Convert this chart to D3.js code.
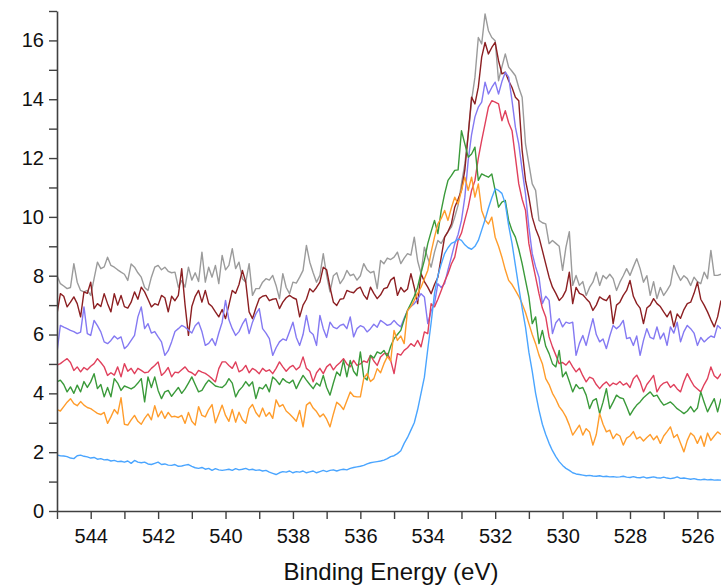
<!DOCTYPE html>
<html>
<head>
<meta charset="utf-8">
<script src="https://cdn.jsdelivr.net/npm/d3@7"></script>
<style>
  html, body { margin: 0; padding: 0; background: #ffffff; }
  svg { display: block; }
</style>
</head>
<body>
<svg id="chart" width="721" height="586"></svg>
<script>
// O 1s region, binding energy sampled every 0.1 eV starting at 545 eV
const energyStart = 545.0;
const energyStep = 0.1;
const energyDomain = [545, 525.3];
const intensityDomain = [0, 17];
const xTickValues = d3.range(526, 546, 1);
const yTickValues = d3.range(0, 18, 1);
const axisTitle = "Binding Energy (eV)";

const gray = [
  8.01, 7.73, 7.65, 7.56, 7.60, 8.41, 7.78, 7.50, 7.45, 7.50,
  7.33, 7.90, 8.46, 8.24, 8.30, 8.63, 8.35, 8.29, 8.20, 8.12,
  8.05, 7.84, 8.40, 8.29, 8.10, 7.95, 7.60, 7.50, 7.95, 8.29,
  8.35, 8.20, 8.29, 8.15, 8.10, 8.12, 7.61, 7.84, 7.61, 8.29,
  7.85, 8.10, 7.80, 8.80, 7.78, 8.29, 7.95, 8.35, 7.73, 8.69,
  8.20, 8.35, 8.92, 8.24, 8.46, 7.90, 7.78, 8.41, 7.33, 7.56,
  7.56, 7.78, 7.90, 7.85, 8.01, 7.67, 7.22, 8.07, 7.60, 7.39,
  7.78, 7.75, 7.95, 8.18, 9.03, 8.46, 8.10, 7.78, 8.01, 8.75,
  8.01, 7.45, 8.00, 8.10, 7.73, 7.90, 8.18, 8.00, 8.05, 7.85,
  8.00, 8.41, 8.20, 8.10, 8.15, 7.56, 8.52, 8.41, 8.60, 8.55,
  8.63, 8.80, 8.41, 8.60, 8.75, 8.70, 9.31, 8.50, 8.07, 8.97,
  8.60, 8.29, 8.80, 9.20, 9.10, 9.31, 9.50, 9.65, 9.99, 10.40,
  11.12, 11.80, 12.80, 13.95, 14.75, 16.10, 15.88, 16.90, 16.33, 16.10,
  15.99, 14.63, 15.10, 15.54, 15.09, 14.95, 14.80, 14.40, 14.07, 12.48,
  11.80, 11.12, 10.90, 9.88, 9.80, 9.76, 9.09, 9.20, 9.10, 9.00,
  8.18, 8.97, 9.50, 7.67, 8.01, 7.67, 7.80, 7.33, 7.60, 7.78,
  8.12, 7.67, 8.01, 7.90, 8.05, 7.90, 7.50, 7.78, 8.00, 8.24,
  8.01, 8.30, 8.58, 8.24, 7.78, 8.00, 7.33, 7.80, 7.22, 7.60,
  7.33, 7.50, 7.70, 8.35, 8.07, 7.84, 8.00, 7.90, 7.67, 7.95,
  7.80, 7.73, 8.12, 7.90, 8.86, 8.01, 8.01, 8.05
];

const darkRed = [
  6.70, 7.39, 7.30, 6.94, 7.10, 7.28, 7.05, 6.60, 7.45, 7.40,
  7.78, 6.88, 7.05, 6.95, 7.39, 7.05, 6.77, 7.39, 7.00, 7.33,
  6.95, 6.90, 7.10, 7.45, 7.20, 7.61, 7.45, 7.20, 6.94, 7.05,
  7.00, 7.33, 7.25, 6.77, 7.30, 7.15, 7.33, 8.24, 7.00, 5.97,
  6.95, 7.30, 7.50, 7.10, 7.50, 7.05, 6.95, 6.77, 6.60, 6.85,
  6.54, 7.00, 7.50, 7.40, 7.70, 8.18, 7.78, 6.77, 6.54, 6.90,
  7.22, 7.30, 7.33, 7.15, 7.20, 7.22, 6.88, 7.10, 7.25, 7.33,
  7.25, 7.20, 6.60, 7.00, 7.20, 7.56, 7.45, 7.60, 7.78, 8.29,
  8.20, 7.60, 7.10, 6.99, 7.20, 7.22, 7.50, 7.45, 7.42, 7.55,
  7.61, 7.35, 7.20, 7.61, 7.40, 7.22, 7.35, 7.56, 7.60, 7.85,
  7.95, 7.33, 7.60, 7.45, 7.55, 8.07, 7.60, 7.05, 8.07, 7.80,
  7.61, 7.39, 7.70, 7.95, 8.63, 9.31, 9.50, 9.76, 10.33, 10.60,
  10.90, 11.60, 12.80, 14.07, 13.84, 14.41, 15.43, 15.93, 15.54, 15.76,
  15.93, 15.31, 14.86, 14.92, 14.63, 14.40, 14.07, 13.95, 12.26, 11.24,
  10.67, 9.99, 9.60, 9.31, 8.86, 8.40, 7.95, 7.61, 7.40, 7.16,
  7.28, 7.50, 8.12, 7.05, 7.60, 7.40, 7.35, 7.22, 7.10, 6.82,
  7.00, 7.28, 7.20, 7.15, 7.33, 6.37, 7.00, 7.10, 7.33, 7.50,
  7.84, 7.30, 7.05, 6.90, 6.37, 6.90, 7.00, 7.22, 7.05, 6.95,
  6.77, 6.60, 6.80, 6.26, 6.70, 6.55, 6.85, 7.05, 7.10, 7.40,
  7.78, 7.20, 7.00, 6.77, 6.50, 6.26, 6.60, 7.16
];

const violet = [
  5.40, 6.31, 6.25, 6.20, 6.14, 6.10, 6.03, 6.08, 6.94, 6.03,
  5.97, 6.48, 6.30, 6.09, 5.75, 5.69, 5.80, 5.95, 5.85, 5.92,
  5.52, 5.63, 5.80, 5.97, 6.60, 6.94, 6.20, 6.37, 6.05, 6.10,
  5.92, 5.75, 5.29, 5.45, 5.75, 6.10, 6.20, 6.31, 6.25, 6.15,
  6.05, 6.30, 6.42, 6.10, 5.63, 5.70, 5.86, 5.63, 6.05, 6.42,
  7.16, 6.50, 6.20, 5.97, 6.10, 6.35, 6.54, 6.03, 6.42, 6.70,
  6.88, 6.20, 6.05, 5.86, 5.29, 5.55, 5.75, 5.85, 5.80, 6.10,
  6.42, 5.90, 5.63, 6.00, 6.65, 6.10, 6.00, 5.63, 6.65, 6.20,
  5.90, 6.42, 6.25, 6.20, 6.31, 6.35, 6.20, 6.60, 5.92, 6.20,
  6.30, 6.25, 6.09, 6.20, 6.35, 6.25, 6.48, 6.40, 6.31, 6.35,
  6.48, 6.35, 6.26, 6.55, 6.82, 6.95, 7.05, 7.20, 7.39, 7.28,
  6.37, 6.80, 7.05, 7.73, 7.60, 7.73, 8.20, 8.63, 9.09, 9.40,
  9.88, 10.67, 11.92, 12.80, 13.40, 13.73, 13.90, 14.58, 14.18, 14.40,
  14.58, 14.18, 14.60, 14.92, 14.75, 13.95, 13.05, 12.48, 11.60, 10.78,
  9.65, 8.75, 8.30, 7.95, 7.05, 7.30, 7.16, 6.03, 6.40, 6.54,
  6.26, 6.42, 6.38, 6.42, 5.29, 5.70, 5.97, 5.63, 6.10, 6.54,
  6.00, 5.75, 5.85, 5.52, 5.95, 6.31, 6.20, 6.30, 6.48, 5.86,
  5.90, 5.63, 5.95, 5.29, 5.80, 6.20, 5.90, 5.85, 6.26, 5.85,
  6.05, 5.63, 6.26, 6.05, 6.42, 5.75, 6.10, 6.31, 6.20, 6.05,
  5.63, 5.90, 5.75, 5.86, 5.95, 5.90, 6.31, 6.20
];

const crimson = [
  4.96, 5.01, 5.10, 5.18, 5.05, 4.78, 4.90, 4.73, 4.88, 4.80,
  4.92, 5.01, 5.18, 5.05, 4.90, 4.61, 4.70, 4.62, 4.90, 4.56,
  5.01, 4.75, 4.85, 4.67, 4.85, 4.78, 4.70, 4.72, 4.85, 4.95,
  5.07, 4.61, 4.72, 4.88, 4.56, 4.72, 4.70, 4.80, 4.90, 4.75,
  4.70, 4.61, 4.78, 4.72, 4.68, 4.60, 4.50, 4.39, 4.84, 5.07,
  5.07, 4.95, 4.85, 5.07, 4.73, 4.80, 4.95, 4.70, 4.85, 4.78,
  4.67, 4.85, 4.75, 4.80, 4.67, 4.85, 5.07, 4.90, 4.75, 4.88,
  4.95, 4.80, 4.90, 5.24, 4.85, 4.75, 4.39, 4.70, 4.85, 4.67,
  4.90, 5.00, 4.80, 4.95, 5.05, 5.18, 5.00, 4.90, 5.12, 4.95,
  5.00, 5.10, 5.05, 5.29, 5.10, 4.95, 5.24, 5.35, 5.36, 5.12,
  4.67, 5.35, 5.30, 5.46, 5.55, 5.69, 5.60, 5.80, 5.58, 6.09,
  6.03, 7.05, 6.94, 7.20, 7.50, 7.80, 8.07, 8.40, 8.63, 9.20,
  9.45, 9.90, 10.33, 10.90, 11.24, 12.00, 12.60, 13.16, 13.73, 13.95,
  13.90, 13.84, 13.27, 13.61, 13.20, 12.93, 12.03, 11.12, 10.60, 10.22,
  9.09, 8.50, 7.95, 7.39, 6.90, 6.60, 5.92, 5.58, 5.30, 5.01,
  5.05, 4.96, 5.10, 4.90, 4.73, 4.85, 4.60, 4.39, 4.55, 4.50,
  4.30, 4.16, 4.30, 4.39, 4.25, 4.35, 4.30, 4.40, 4.28, 4.35,
  4.20, 4.50, 4.62, 4.40, 4.05, 4.30, 4.45, 4.61, 4.05, 4.25,
  4.35, 4.39, 4.20, 4.30, 4.15, 4.05, 4.40, 4.67, 4.45, 4.25,
  4.15, 4.05, 4.30, 4.50, 4.90, 4.60, 4.50, 4.67
];

const green = [
  4.39, 4.45, 4.30, 4.05, 4.22, 4.00, 4.28, 4.05, 4.40, 4.20,
  4.39, 4.67, 4.16, 4.30, 3.88, 4.20, 3.88, 4.50, 4.35, 4.10,
  4.25, 4.20, 4.15, 4.22, 4.35, 4.50, 3.71, 4.56, 4.20, 4.56,
  4.10, 3.82, 4.05, 4.10, 3.90, 4.05, 4.20, 4.00, 4.15, 4.35,
  4.56, 4.30, 4.05, 4.10, 4.30, 4.45, 4.35, 4.25, 4.22, 4.20,
  4.30, 4.50, 4.35, 3.88, 4.10, 4.22, 4.40, 4.25, 4.39, 3.82,
  4.20, 4.15, 4.30, 4.05, 4.56, 4.45, 4.30, 4.50, 4.40, 4.35,
  4.45, 4.16, 4.40, 4.61, 4.45, 4.30, 4.16, 4.35, 4.25, 4.61,
  4.20, 3.94, 4.35, 4.73, 4.60, 5.12, 4.56, 5.12, 4.75, 4.60,
  5.41, 4.56, 4.45, 5.29, 5.20, 5.41, 5.35, 5.46, 5.24, 5.60,
  5.86, 6.00, 6.14, 6.50, 6.82, 7.05, 7.30, 7.61, 8.10, 8.52,
  9.09, 9.50, 9.88, 9.43, 10.22, 10.78, 11.24, 11.40, 11.58, 11.60,
  12.93, 12.48, 12.03, 12.14, 12.37, 11.24, 11.46, 11.40, 11.35, 11.46,
  10.90, 10.33, 10.50, 10.56, 9.88, 9.54, 9.31, 8.90, 8.41, 7.84,
  7.28, 6.37, 6.60, 5.69, 6.14, 5.60, 5.35, 5.01, 4.90, 5.46,
  4.56, 4.73, 4.40, 4.05, 4.30, 4.16, 4.20, 3.94, 3.48, 3.75,
  3.82, 3.31, 3.70, 4.16, 3.48, 3.70, 3.94, 3.85, 3.82, 3.55,
  3.26, 3.45, 3.60, 3.71, 3.85, 3.95, 4.05, 3.90, 3.94, 3.75,
  3.60, 3.65, 3.71, 3.60, 3.48, 3.40, 3.31, 3.40, 3.55, 3.37,
  3.50, 4.05, 3.70, 3.37, 3.60, 3.82, 3.37, 3.82
];

const orange = [
  3.45, 3.40, 3.55, 3.70, 3.82, 3.65, 3.58, 3.72, 3.60, 3.52,
  3.48, 3.40, 3.32, 3.28, 3.35, 2.98, 3.20, 3.45, 3.30, 3.85,
  2.95, 2.92, 3.10, 3.25, 3.05, 2.95, 3.15, 3.30, 3.10, 3.58,
  3.20, 3.40, 3.15, 3.35, 3.20, 3.22, 3.18, 3.25, 2.98, 3.35,
  3.05, 2.92, 3.55, 3.25, 3.20, 3.45, 3.62, 3.00, 3.30, 3.60,
  3.25, 3.05, 3.45, 3.02, 3.36, 3.10, 2.98, 3.48, 3.62, 3.35,
  3.20, 3.50, 3.22, 3.35, 3.15, 3.78, 3.55, 3.62, 3.40, 3.30,
  3.18, 3.05, 3.42, 2.86, 3.60, 3.70, 3.50, 3.38, 3.20, 3.30,
  3.12, 2.86, 3.30, 3.70, 3.60, 3.45, 3.75, 4.05, 3.90, 3.88,
  3.88, 4.50, 4.67, 4.40, 4.50, 4.84, 4.70, 5.01, 5.25, 5.10,
  6.14, 5.80, 5.95, 5.69, 6.82, 6.95, 7.16, 7.40, 7.61, 7.90,
  8.18, 8.80, 9.31, 9.76, 9.95, 10.22, 9.88, 10.30, 10.67, 10.44,
  10.90, 11.35, 10.90, 11.35, 10.67, 11.12, 10.22, 9.90, 9.76, 9.99,
  9.31, 9.00, 8.63, 8.20, 7.84, 7.70, 7.50, 7.30, 7.05, 6.75,
  6.37, 6.00, 5.69, 5.30, 5.01, 4.50, 4.30, 4.00, 3.80, 3.55,
  3.40, 3.20, 2.92, 2.58, 2.75, 2.92, 2.58, 2.80, 2.69, 2.24,
  2.60, 3.31, 2.95, 2.69, 2.75, 2.46, 2.62, 2.55, 2.24, 2.48,
  2.55, 2.70, 2.45, 2.52, 2.38, 2.50, 2.60, 2.42, 2.55, 2.30,
  2.55, 2.70, 2.86, 2.50, 2.60, 2.30, 2.01, 2.40, 2.65, 2.55,
  2.30, 2.55, 2.20, 2.65, 2.40, 2.55, 2.69, 2.60
];

const skyBlue = [
  1.90, 1.88, 1.87, 1.85, 1.80, 1.78, 1.88, 1.90, 1.86, 1.84,
  1.80, 1.82, 1.76, 1.78, 1.74, 1.75, 1.70, 1.72, 1.68, 1.69,
  1.66, 1.70, 1.62, 1.72, 1.66, 1.64, 1.66, 1.60, 1.58, 1.62,
  1.66, 1.58, 1.60, 1.56, 1.55, 1.58, 1.52, 1.53, 1.56, 1.58,
  1.52, 1.47, 1.45, 1.48, 1.42, 1.45, 1.38, 1.44, 1.40, 1.38,
  1.40, 1.42, 1.38, 1.44, 1.40, 1.42, 1.45, 1.40, 1.42, 1.38,
  1.40, 1.36, 1.38, 1.32, 1.28, 1.24, 1.30, 1.34, 1.32, 1.36,
  1.30, 1.34, 1.32, 1.36, 1.30, 1.33, 1.36, 1.30, 1.34, 1.38,
  1.34, 1.38, 1.40, 1.36, 1.40, 1.42, 1.40, 1.45, 1.48, 1.50,
  1.52, 1.55, 1.60, 1.64, 1.66, 1.68, 1.70, 1.73, 1.78, 1.85,
  1.88, 1.95, 2.05, 2.30, 2.50, 2.75, 3.00, 3.45, 4.00, 4.55,
  5.50, 6.40, 7.40, 8.00, 8.40, 8.75, 8.95, 9.10, 9.15, 9.25,
  9.20, 9.05, 8.95, 8.90, 9.00, 9.20, 9.55, 9.90, 10.30, 10.65,
  10.95, 10.90, 10.80, 10.45, 9.70, 9.10, 8.35, 7.60, 6.90, 6.25,
  5.40, 4.75, 4.00, 3.43, 2.95, 2.60, 2.30, 2.05, 1.85, 1.68,
  1.55, 1.45, 1.38, 1.30, 1.26, 1.24, 1.22, 1.20, 1.21, 1.19,
  1.18, 1.20, 1.17, 1.18, 1.16, 1.17, 1.15, 1.16, 1.18, 1.15,
  1.14, 1.17, 1.14, 1.13, 1.16, 1.12, 1.14, 1.16, 1.13, 1.12,
  1.15, 1.12, 1.10, 1.12, 1.16, 1.11, 1.12, 1.10, 1.08, 1.10,
  1.07, 1.06, 1.08, 1.06, 1.07, 1.05, 1.06, 1.05
];

// Drawing order: back to front
const spectra = [gray, darkRed, violet, crimson, green, orange, skyBlue];
const spectrumColors = ["#9b9b9b", "#8c1f22", "#8479f2", "#e0405c", "#3a9a3a", "#ff9c2b", "#4aa5ff"];

const svg = d3.select("#chart");
const plot = { left: 57, right: 721, top: 11, bottom: 511 };

const x = d3.scaleLinear().domain(energyDomain).range([plot.left, plot.right]);
const y = d3.scaleLinear().domain(intensityDomain).range([plot.bottom, plot.top]);

svg.append("defs").append("clipPath").attr("id", "plot-clip")
  .append("rect")
  .attr("x", plot.left).attr("y", 0)
  .attr("width", plot.right - plot.left).attr("height", plot.bottom);

const line = d3.line()
  .x((d, i) => x(energyStart - i * energyStep))
  .y(d => y(d));

const lines = svg.append("g").attr("clip-path", "url(#plot-clip)");
lines.selectAll("path")
  .data(spectra)
  .join("path")
  .attr("d", line)
  .attr("fill", "none")
  .attr("stroke", (d, i) => spectrumColors[i])
  .attr("stroke-width", 1.4)
  .attr("stroke-linejoin", "round");

const fontFamily = "'Liberation Sans', Arial, sans-serif";

const yAxis = d3.axisLeft(y)
  .tickValues(yTickValues)
  .tickFormat(d => (d % 2 === 0 && d <= 16) ? d : "")
  .tickSize(8)
  .tickSizeOuter(0)
  .tickPadding(5);

const xAxis = d3.axisBottom(x)
  .tickValues(xTickValues)
  .tickFormat(d => (d % 2 === 0) ? d : "")
  .tickSize(8)
  .tickSizeOuter(0)
  .tickPadding(10);

function styleAxis(g) {
  g.select(".domain").attr("stroke", "#404040").attr("stroke-width", 1.6);
  g.selectAll(".tick line").attr("stroke", "#404040").attr("stroke-width", 1.4);
  g.selectAll(".tick text")
    .attr("fill", "#111")
    .style("font-family", fontFamily)
    .style("font-size", "20px");
}

svg.append("g")
  .attr("transform", `translate(${plot.left},0)`)
  .call(yAxis)
  .call(styleAxis);

svg.append("g")
  .attr("transform", `translate(0,${plot.bottom})`)
  .call(xAxis)
  .call(styleAxis);

svg.append("text")
  .attr("x", 391)
  .attr("y", 580)
  .attr("text-anchor", "middle")
  .attr("fill", "#111")
  .style("font-family", fontFamily)
  .style("font-size", "24px")
  .text(axisTitle);
</script>
</body>
</html>
